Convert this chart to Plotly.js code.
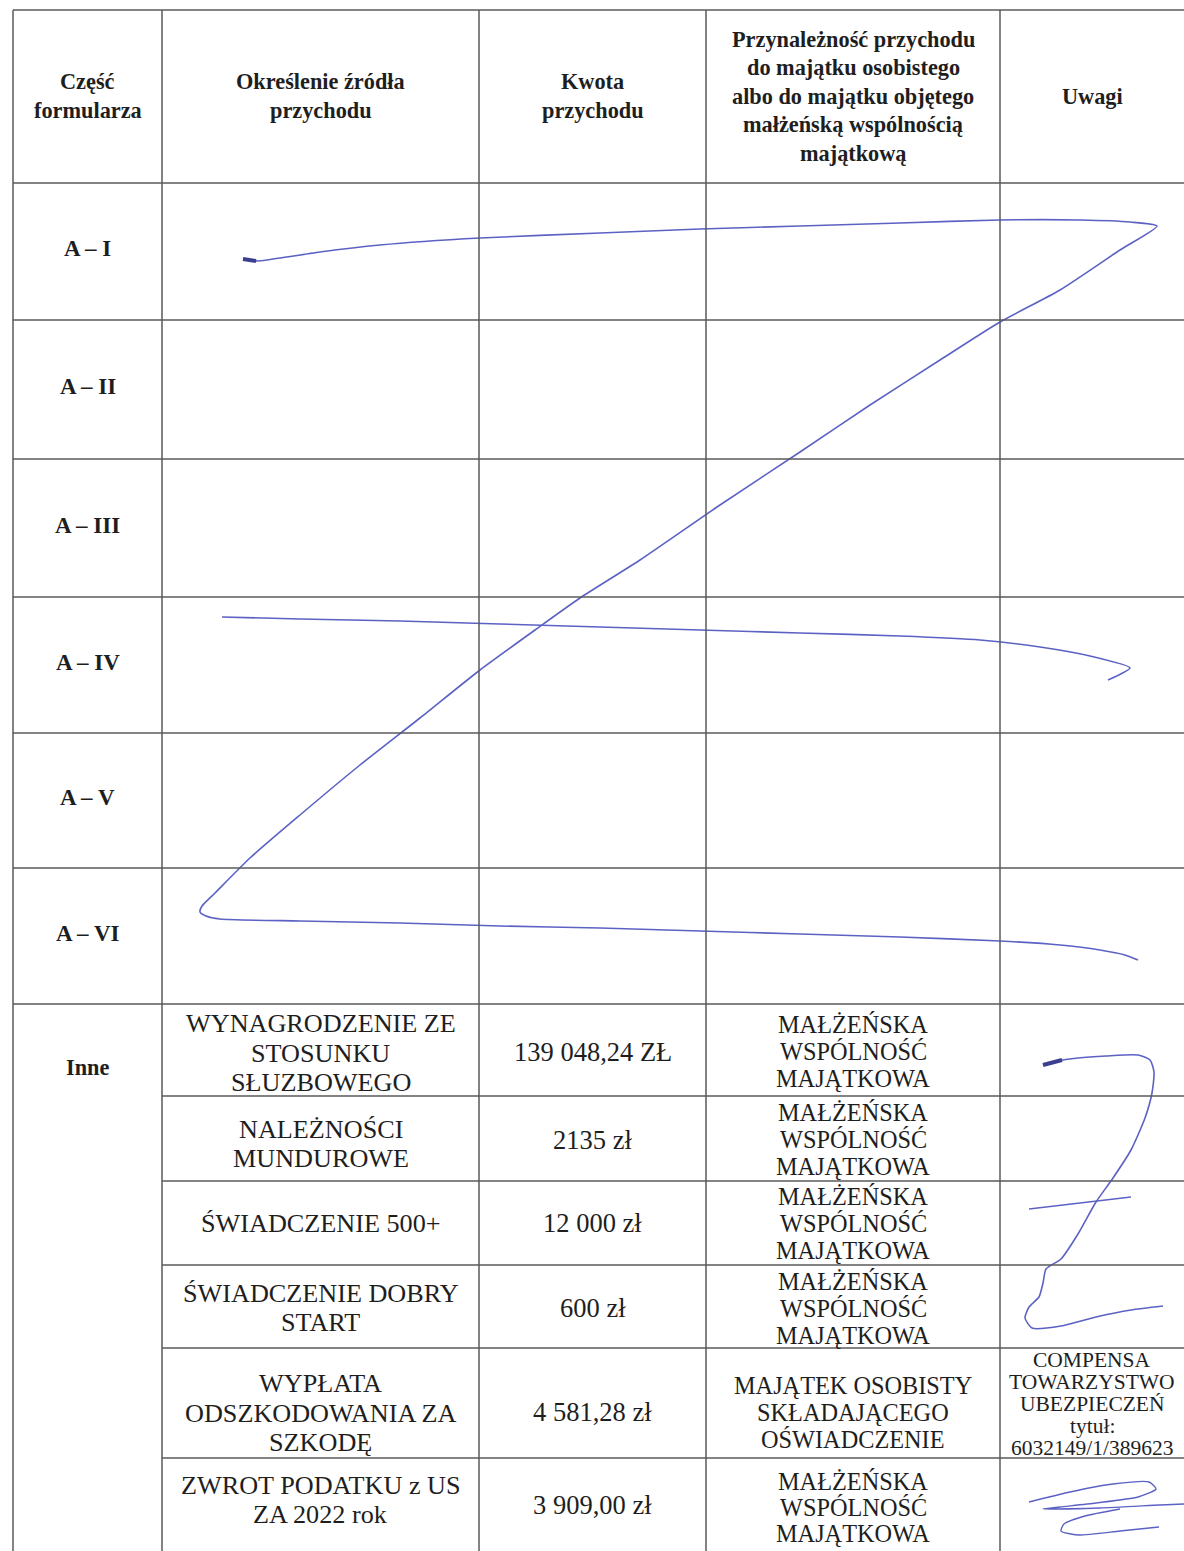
<!DOCTYPE html>
<html>
<head>
<meta charset="utf-8">
<script src="https://cdn.plot.ly/plotly-3.0.1.min.js"></script>
<style>html,body{margin:0;padding:0;background:#fff;}#chart{width:1184px;height:1551px;}</style>
</head>
<body>
<div id="chart"></div>
<script>
// ---------------- DATA ----------------
const headers = [
  "Część\nformularza",
  "Określenie źródła\nprzychodu",
  "Kwota\nprzychodu",
  "Przynależność przychodu\ndo majątku osobistego\nalbo do majątku objętego\nmałżeńską wspólnością\nmajątkową",
  "Uwagi"
];
const parts = ["A – I", "A – II", "A – III", "A – IV", "A – V", "A – VI"];
const otherLabel = "Inne";
const sources = [
  "WYNAGRODZENIE ZE\nSTOSUNKU\nSŁUZBOWEGO",
  "NALEŻNOŚCI\nMUNDUROWE",
  "ŚWIADCZENIE 500+",
  "ŚWIADCZENIE DOBRY\nSTART",
  "WYPŁATA\nODSZKODOWANIA ZA\nSZKODĘ",
  "ZWROT PODATKU z US\nZA 2022 rok"
];
const amounts = ["139 048,24 ZŁ", "2135 zł", "12 000 zł", "600 zł", "4 581,28 zł", "3 909,00 zł"];
const ownership = [
  "MAŁŻEŃSKA\nWSPÓLNOŚĆ\nMAJĄTKOWA",
  "MAŁŻEŃSKA\nWSPÓLNOŚĆ\nMAJĄTKOWA",
  "MAŁŻEŃSKA\nWSPÓLNOŚĆ\nMAJĄTKOWA",
  "MAŁŻEŃSKA\nWSPÓLNOŚĆ\nMAJĄTKOWA",
  "MAJĄTEK OSOBISTY\nSKŁADAJĄCEGO\nOŚWIADCZENIE",
  "MAŁŻEŃSKA\nWSPÓLNOŚĆ\nMAJĄTKOWA"
];
const remarks = ["", "", "", "", "COMPENSA\nTOWARZYSTWO\nUBEZPIECZEŃ\ntytuł:\n6032149/1/389623", ""];

// handwritten strike-through strokes (page coordinates)
const zStrokeX = [243,258,280,320,380,480,600,700,800,900,1000,1080,1130,1157,
                  1120,1060,1000,940,870,800,720,640,580,535,480,420,360,300,250,215,202,200,206,220,
                  300,400,500,600,700,800,900,1000,1060,1100,1125,1138];
const zStrokeY = [259,261,258,252,245,238,233,229,226,223,220,220,222,226,
                  250,290,322,360,405,452,505,560,598,630,670,718,765,815,858,893,906,912,916,919,
                  921,923,926,928,931,934,937,941,945,950,955,960];
const ivStrokeX = [222,300,400,500,600,700,800,900,980,1040,1090,1130,1108];
const ivStrokeY = [617,619,621,624,627,630,633,636,640,647,656,668,680];
const remZX = [1043,1057,1078,1106,1138,1150,1154,1152,1145,1131,1113,1096,1078,1061,1046,1043,1039,1029,1025,1032,1061,1096,1131,1163];
const remZY = [1065,1061,1058,1056,1055,1060,1072,1093,1118,1150,1178,1202,1234,1259,1269,1283,1297,1307,1318,1328,1326,1317,1310,1306];
const remCrossX = [1029,1080,1131];
const remCrossY = [1209,1203,1197];
const lastScribX = [1029,1070,1113,1149,1156,1138,1096,1060,1043,1100,1160,1184];
const lastScribY = [1502,1492,1484,1482,1489,1497,1503,1507,1509,1508,1505,1504];
const lastScribX2 = [1120,1085,1064,1061,1078,1120,1159];
const lastScribY2 = [1509,1516,1524,1531,1535,1531,1527];

// ---------------- LAYOUT CONSTANTS ----------------
const W = 1184, H = 1551;
const colX = [13, 162, 479, 706, 1000, 1184];
const mainRows = [10, 183, 320, 459, 597, 733, 868, 1004];
const subRows = [1004, 1096, 1181, 1265, 1348, 1458, 1566];
const lineColor = '#5a5a5a';
const ink = '#1e1e1e';
const pen = '#5c62c4';
const serif = 'Liberation Serif, Times New Roman, serif';

const shapes = [];
function hline(y, x0, x1) { shapes.push({type:'line', xref:'x', yref:'y', x0:x0, x1:x1, y0:y, y1:y, line:{color:lineColor, width:1.5}}); }
function vline(x, y0, y1) { shapes.push({type:'line', xref:'x', yref:'y', x0:x, x1:x, y0:y0, y1:y1, line:{color:lineColor, width:1.5}}); }
mainRows.forEach(y => hline(y, colX[0], W));
subRows.slice(1, -1).forEach(y => hline(y, colX[1], W));
colX.slice(0, 5).forEach(x => vline(x, mainRows[0], H));

const annotations = [];
function addLines(text, cx, cy, spacing, size, bold) {
  const lines = text.split('\n');
  const n = lines.length;
  lines.forEach((ln, i) => {
    annotations.push({
      xref:'x', yref:'y', x:cx, y: cy + (i - (n - 1) / 2) * spacing,
      text: bold ? '<b>' + ln + '</b>' : ln,
      showarrow:false, xanchor:'center', yanchor:'middle',
      font:{family:serif, size:size, color:ink}
    });
  });
}
const colC = i => (colX[i] + colX[i + 1]) / 2;

headers.forEach((h, i) => addLines(h, colC(i), 96, 28.5, 22.3, true));
parts.forEach((p, i) => addLines(p, colC(0), (mainRows[i + 1] + mainRows[i + 2]) / 2 - 3, 28, 23, true));
addLines(otherLabel, colC(0), 1067, 28, 22.3, true);

const srcCY = [1053, 1144, 1223, 1308, 1413, 1500];
const amtCY = [1052, 1140, 1223, 1308, 1412, 1505];
const ownCY = [1051, 1139, 1223, 1308, 1412, 1507];
const ownSp = [27, 27, 27, 27, 27, 26];
sources.forEach((t, i) => addLines(t, colC(1), srcCY[i], 29.5, 26.2, false));
amounts.forEach((t, i) => addLines(t, colC(2), amtCY[i], 29, 26.5, false));
ownership.forEach((t, i) => addLines(t, colC(3), ownCY[i], ownSp[i], 24.3, false));
remarks.forEach((t, i) => { if (t) addLines(t, colC(4), 1404, 22, 21.5, false); });

function stroke(x, y, w) {
  return {type:'scatter', mode:'lines', x:x, y:y, hoverinfo:'skip',
          line:{color:pen, width:w, shape:'spline', smoothing:0.6}};
}
const traces = [
  stroke(zStrokeX, zStrokeY, 1.6),
  stroke(ivStrokeX, ivStrokeY, 1.6),
  stroke(remZX, remZY, 1.6),
  stroke(remCrossX, remCrossY, 1.4),
  stroke(lastScribX, lastScribY, 1.4),
  stroke(lastScribX2, lastScribY2, 1.4),
  {type:'scatter', mode:'lines', x:[243,256], y:[259,261], hoverinfo:'skip', line:{color:'#3a3f8f', width:4}},
  {type:'scatter', mode:'lines', x:[1043,1062], y:[1065,1060], hoverinfo:'skip', line:{color:'#3a3f8f', width:4}}
];

const layout = {
  width: W, height: H,
  margin:{l:0, r:0, t:0, b:0, pad:0},
  paper_bgcolor:'#ffffff', plot_bgcolor:'#ffffff',
  showlegend:false,
  xaxis:{range:[0, W], visible:false, fixedrange:true},
  yaxis:{range:[H, 0], visible:false, fixedrange:true},
  shapes: shapes,
  annotations: annotations
};
Plotly.newPlot('chart', traces, layout, {displayModeBar:false, staticPlot:true});
</script>
</body>
</html>
